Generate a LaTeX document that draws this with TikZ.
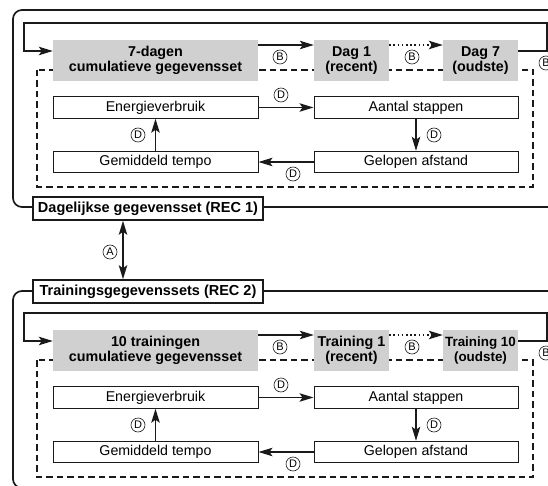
\documentclass[tikz,border=0pt]{standalone}
\usepackage{fontspec}
\setmainfont{Liberation Sans}
\usetikzlibrary{arrows.meta,calc}
\definecolor{boxgrey}{HTML}{D0D0D0}
\definecolor{ink}{HTML}{1A1A1A}
\begin{document}
\begin{tikzpicture}[x=1pt,y=-1pt,
  greybox/.style={fill=boxgrey,draw=none,minimum height=41pt,align=center,inner sep=0pt,
    font=\bfseries\fontsize{14.3}{15.5}\selectfont},
  whitebox/.style={draw=ink,line width=1pt,fill=white,minimum height=21.5pt,inner sep=0pt,
    font=\fontsize{14.2}{16}\selectfont},
  labelbox/.style={draw=ink,line width=1.6pt,fill=white,minimum width=230pt,minimum height=23pt,
    inner sep=0pt,font=\bfseries\fontsize{14.5}{16}\selectfont},
  circ/.style={circle,draw=ink,line width=0.6pt,minimum size=14pt,inner sep=0pt,
    font=\fontsize{11}{11}\selectfont},
  tip/.tip={Stealth[length=14pt,width=8.5pt,inset=3pt]},
  arr/.style={draw=ink,line width=1.2pt,-tip},
  darr/.style={draw=ink,line width=1.2pt,tip-tip},
  frame/.style={draw=ink,line width=1.7pt,rounded corners=9pt},
  dframe/.style={draw=ink,line width=1.5pt,dash pattern=on 6.5pt off 4pt},
  dots/.style={line width=1.4pt,dash pattern=on 1.6pt off 2.6pt}
]
\useasboundingbox (0,0) rectangle (548,486);
\clip (0,0) rectangle (548,486);

% ===== top section =====
\draw[frame] (13,10) rectangle (575,207);
\draw[dframe] (37,70) rectangle (533,187);
\node[greybox,minimum width=205pt] (g1a) at (155.5,60.5) {7-dagen\\cumulatieve gegevensset};
\node[greybox,minimum width=75pt] (d1a) at (351.5,60.5) {Dag 1\\(recent)};
\node[greybox,minimum width=75pt] (d7a) at (480.5,60.5) {Dag 7\\(oudste)};
\node[whitebox,minimum width=205pt] (ea) at (155.5,107.5) {Energieverbruik};
\node[whitebox,minimum width=204pt] (sa) at (416,107.5) {Aantal stappen};
\node[whitebox,minimum width=204pt] (la) at (416,162) {Gelopen afstand};
\node[whitebox,minimum width=205pt] (ta) at (155.5,162) {Gemiddeld tempo};
\node[labelbox] (reca) at (148,208.5) {Dagelijkse gegevensset (REC 1)};

\coordinate (fa1) at (547,23);
\coordinate (fa2) at (24,23);
\draw[arr] ([yshift=9.5pt]d7a.east) -| (fa1) -- (fa2) |- ([yshift=9.5pt]g1a.west);
\draw[arr] ([yshift=15.5pt]g1a.east) -- ([yshift=15.5pt]d1a.west);
\draw[arr,dots] ([yshift=15.5pt]d1a.east) -- ([yshift=15.5pt]d7a.west);
\draw[arr] (ea.east) -- (sa.west);
\draw[arr] (sa.south) -- (la.north);
\draw[arr] (la.west) -- (ta.east);
\draw[arr] (ta.north) -- (ea.south);

\node[circ] (cb1a) at (280,57) {B};
\node[circ] (cb2a) at (412,57) {B};
\node[circ] (cb3a) at (546,63) {B};
\node[circ] (cd1a) at (281,95) {D};
\node[circ] (cd2a) at (434,135) {D};
\node[circ] (cd3a) at (293,174) {D};
\node[circ] (cd4a) at (138,135) {D};

% ===== bottom section =====
\draw[frame] (13,291) rectangle (575,488);
\draw[dframe] (37,360) rectangle (533,477);
\node[greybox,minimum width=205pt] (g1b) at (155.5,350.5) {10 trainingen\\cumulatieve gegevensset};
\node[greybox,minimum width=75pt] (d1b) at (351.5,350.5) {Training 1\\(recent)};
\node[greybox,minimum width=75pt,font=\bfseries\fontsize{13.4}{15.5}\selectfont] (d7b) at (480.5,350.5) {Training 10\\(oudste)};
\node[whitebox,minimum width=205pt] (eb) at (155.5,397.5) {Energieverbruik};
\node[whitebox,minimum width=204pt] (sb) at (416,397.5) {Aantal stappen};
\node[whitebox,minimum width=204pt] (lb) at (416,452) {Gelopen afstand};
\node[whitebox,minimum width=205pt] (tb) at (155.5,452) {Gemiddeld tempo};
\node[labelbox] (recb) at (148,291.5) {Trainingsgegevenssets (REC 2)};

\coordinate (fb1) at (547,313);
\coordinate (fb2) at (24,313);
\draw[arr] ([yshift=9.5pt]d7b.east) -| (fb1) -- (fb2) |- ([yshift=9.5pt]g1b.west);
\draw[arr] ([yshift=15.5pt]g1b.east) -- ([yshift=15.5pt]d1b.west);
\draw[arr,dots] ([yshift=15.5pt]d1b.east) -- ([yshift=15.5pt]d7b.west);
\draw[arr] (eb.east) -- (sb.west);
\draw[arr] (sb.south) -- (lb.north);
\draw[arr] (lb.west) -- (tb.east);
\draw[arr] (tb.north) -- (eb.south);

\node[circ] (cb1b) at (280,347) {B};
\node[circ] (cb2b) at (412,347) {B};
\node[circ] (cb3b) at (546,353) {B};
\node[circ] (cd1b) at (281,385) {D};
\node[circ] (cd2b) at (434,425) {D};
\node[circ] (cd3b) at (293,464) {D};
\node[circ] (cd4b) at (138,425) {D};

% ===== link between sections =====
\draw[darr] ([xshift=-25pt]reca.south) -- ([xshift=-25pt]recb.north);
\node[circ] (ca) at (110,252) {A};
\end{tikzpicture}
\end{document}
